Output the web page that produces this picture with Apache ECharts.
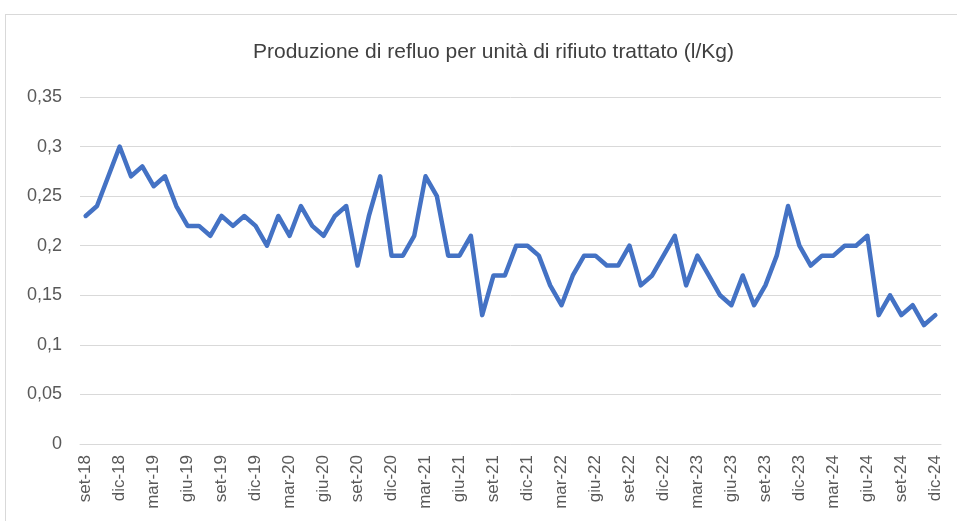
<!DOCTYPE html>
<html>
<head>
<meta charset="utf-8">
<script src="https://cdn.jsdelivr.net/npm/echarts@6/dist/echarts.min.js"></script>
<style>
  html, body { margin: 0; padding: 0; background: #fff; }
  #frame {
    position: absolute; left: 5px; top: 14px;
    width: 1000px; height: 600px;
    border: 1px solid #d9d9d9;
  }
  #chart { position: absolute; left: 0; top: 0; width: 957px; height: 521px; }
</style>
</head>
<body>
<div id="frame"></div>
<div id="chart"></div>
<script>
// mesi da set-18 a dic-24
var mesi = ['gen', 'feb', 'mar', 'apr', 'mag', 'giu', 'lug', 'ago', 'set', 'ott', 'nov', 'dic'];
var categorie = [];
for (var a = 18; a <= 24; a++) {
  for (var m = 0; m < 12; m++) {
    if (a === 18 && m < 8) continue;
    categorie.push(mesi[m] + '-' + a);
  }
}

// l/Kg per mese
var valori = [
  0.23, 0.24, 0.27, 0.30, 0.27, 0.28, 0.26, 0.27, 0.24, 0.22, 0.22, 0.21,
  0.23, 0.22, 0.23, 0.22, 0.20, 0.23, 0.21, 0.24, 0.22, 0.21, 0.23, 0.24,
  0.18, 0.23, 0.27, 0.19, 0.19, 0.21, 0.27, 0.25, 0.19, 0.19, 0.21, 0.13,
  0.17, 0.17, 0.20, 0.20, 0.19, 0.16, 0.14, 0.17, 0.19, 0.19, 0.18, 0.18,
  0.20, 0.16, 0.17, 0.19, 0.21, 0.16, 0.19, 0.17, 0.15, 0.14, 0.17, 0.14,
  0.16, 0.19, 0.24, 0.20, 0.18, 0.19, 0.19, 0.20, 0.20, 0.21, 0.13, 0.15,
  0.13, 0.14, 0.12, 0.13
];

var titolo = 'Produzione di refluo per unità di rifiuto trattato (l/Kg)';
var font = '"Liberation Sans", Arial, sans-serif';

var myChart = echarts.init(document.getElementById('chart'));
var option = {
  animation: false,
  title: {
    text: titolo,
    left: 248,
    top: 37,
    textStyle: {
      color: '#404040',
      fontWeight: 'normal',
      fontSize: 21,
      fontFamily: font
    }
  },
  grid: { left: 80, right: 16, top: 97, bottom: 77, containLabel: false },
  xAxis: {
    type: 'category',
    data: categorie,
    boundaryGap: true,
    axisLine: { lineStyle: { color: '#d9d9d9', width: 1 } },
    axisTick: { interval: 2, length: 5, lineStyle: { color: '#d9d9d9' } },
    axisLabel: {
      interval: 2,
      rotate: 90,
      color: '#595959',
      fontSize: 17,
      margin: 11,
      fontFamily: font
    },
    splitLine: { show: false }
  },
  yAxis: {
    type: 'value',
    min: 0,
    max: 0.35,
    interval: 0.05,
    axisLine: { show: false },
    axisTick: { show: false },
    axisLabel: {
      color: '#595959',
      fontSize: 18,
      margin: 18,
      fontFamily: font,
      formatter: function (v) {
        return String(Math.round(v * 100) / 100).replace('.', ',');
      }
    },
    splitLine: { lineStyle: { color: '#d9d9d9', width: 1 } }
  },
  series: [
    {
      name: titolo,
      type: 'line',
      data: valori,
      showSymbol: false,
      symbol: 'none',
      lineStyle: { color: '#4472C4', width: 4.5, cap: 'round', join: 'round' },
      itemStyle: { color: '#4472C4' }
    }
  ]
};
myChart.setOption(option);
</script>
</body>
</html>
